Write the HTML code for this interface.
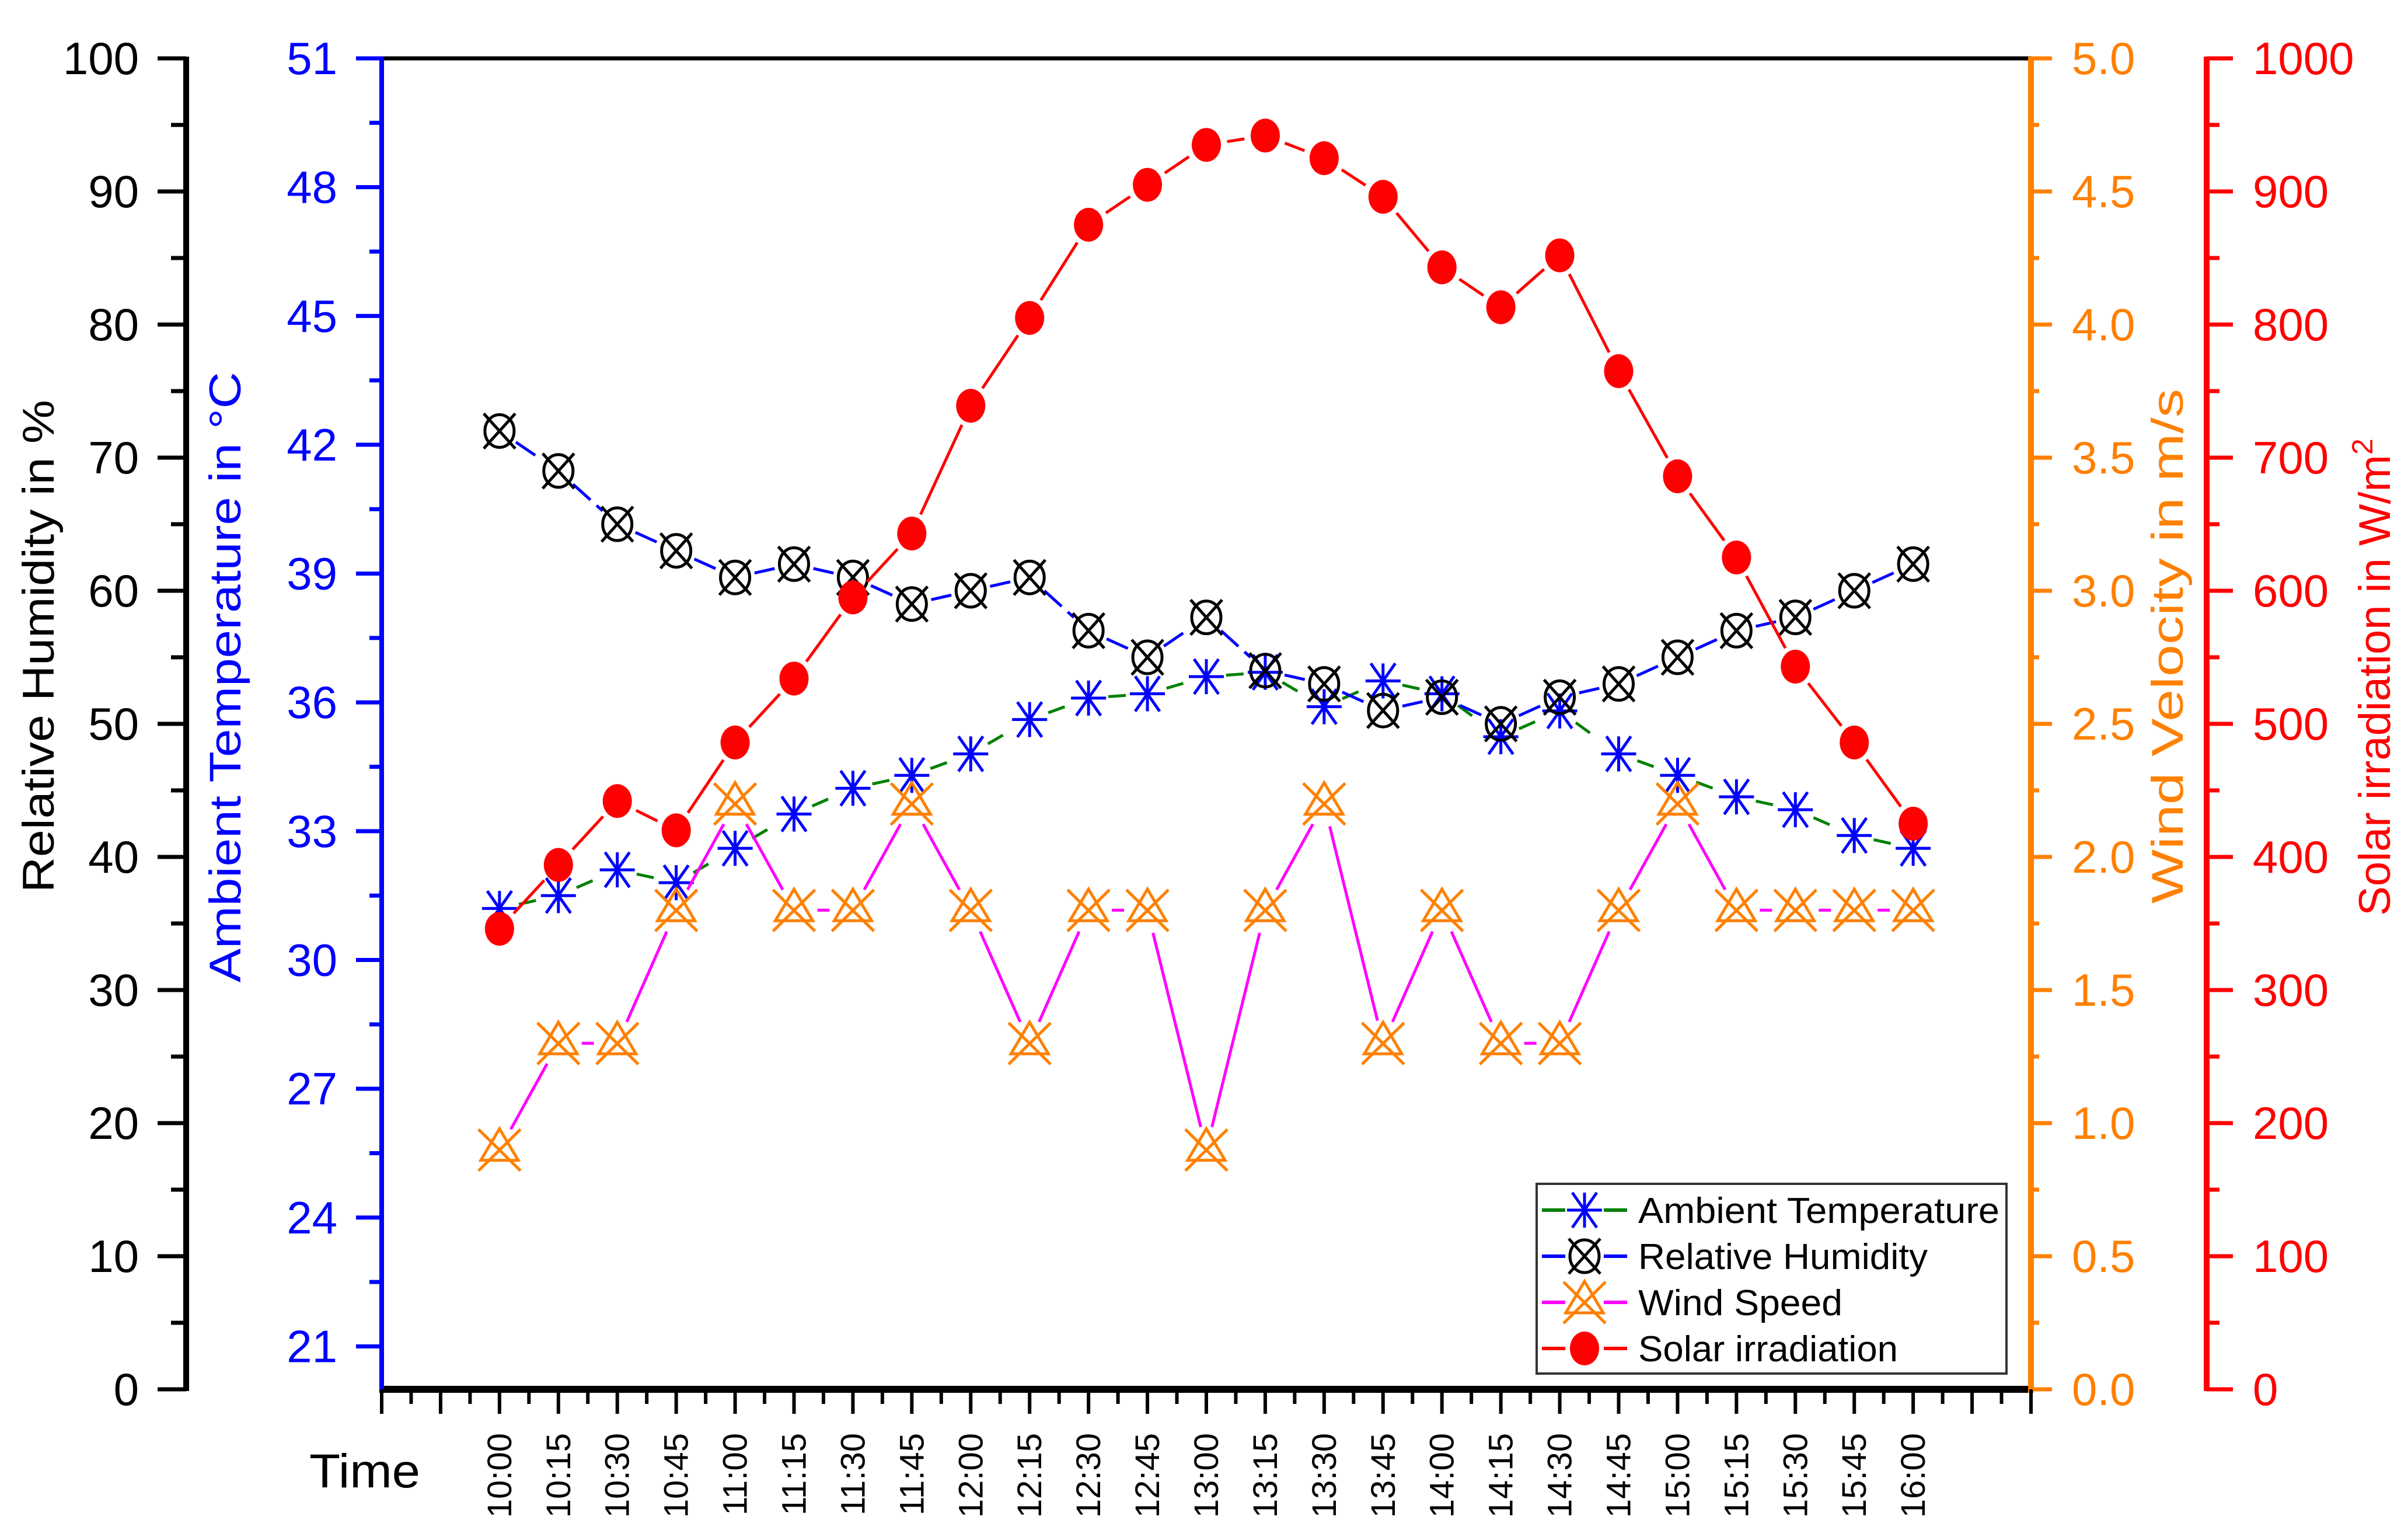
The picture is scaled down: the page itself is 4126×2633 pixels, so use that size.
<!DOCTYPE html>
<html><head><meta charset="utf-8"><style>
html,body{margin:0;padding:0;background:#fff}
svg{display:block}
text{font-family:"Liberation Sans",sans-serif}
</style></head><body>
<svg id="chart" width="4126" height="2633" viewBox="0 0 4126 2633" xmlns="http://www.w3.org/2000/svg">
<g id="axes"></g>
<g id="series"></g>
<g id="legend"></g>
</svg>
<script>
const times=["10:00","10:15","10:30","10:45","11:00","11:15","11:30","11:45","12:00","12:15","12:30","12:45","13:00","13:15","13:30","13:45","14:00","14:15","14:30","14:45","15:00","15:15","15:30","15:45","16:00"];
const tempValues=[31.2,31.5,32.1,31.8,32.6,33.4,34.0,34.3,34.8,35.6,36.1,36.2,36.6,36.7,35.9,36.5,36.2,35.2,35.8,34.8,34.3,33.8,33.5,32.9,32.6];
const rhValues=[72,69,65,63,61,62,61,59,60,61,57,55,58,54,53,51,52,50,52,53,55,57,58,60,62];
const windValues=[0.9,1.3,1.3,1.8,2.2,1.8,1.8,2.2,1.8,1.3,1.8,1.8,0.9,1.8,2.2,1.3,1.8,1.3,1.3,1.8,2.2,1.8,1.8,1.8,1.8];
const solarValues=[346,394,442,420,486,534,595,643,739,805,875,905,935,942,925,896,843,813,852,765,686,625,543,486,425];
const rhTicks=[0,10,20,30,40,50,60,70,80,90,100];
const tempTicks=[21,24,27,30,33,36,39,42,45,48,51];
const windTicks=["0.0","0.5","1.0","1.5","2.0","2.5","3.0","3.5","4.0","4.5","5.0"];
const solarTicks=[0,100,200,300,400,500,600,700,800,900,1000];

const NS="http://www.w3.org/2000/svg";
const L=654,R=3480,T=100,B=2380;
const x=i=>L+(i+2)*(R-L)/28;
const yRH=v=>B-v/100*(B-T);
const yT=v=>B-(v-20)/31*(B-T);
const yW=v=>B-v/5*(B-T);
const yS=v=>B-v/1000*(B-T);
function mk(tag,attrs,parent,txt){const e=document.createElementNS(NS,tag);for(const k in attrs)e.setAttribute(k,attrs[k]);if(txt!==undefined)e.textContent=txt;parent.appendChild(e);return e;}
const ax=document.getElementById('axes'),sr=document.getElementById('series'),lg=document.getElementById('legend');

// frame
let e;
e=mk('line',{x1:L,y1:T,x2:R,y2:T,stroke:'#000','stroke-width':7},ax);

e=mk('line',{x1:L-4,y1:B,x2:R+4,y2:B,stroke:'#000','stroke-width':12},ax);

// RH axis
e=mk('line',{x1:319,y1:T-3,x2:319,y2:B+3,stroke:'#000','stroke-width':10},ax);

rhTicks.forEach((v,i)=>{const y=yRH(v);mk('line',{x1:270,y1:y,x2:319,y2:y,stroke:'#000','stroke-width':7},ax);
 if(i<rhTicks.length-1){const ym=yRH(v+5);mk('line',{x1:293,y1:ym,x2:319,y2:ym,stroke:'#000','stroke-width':7},ax);}
 const t=mk('text',{x:238,y:y+27,'text-anchor':'end','font-size':78,fill:'#000'},ax,v);
 });
e=mk('text',{x:0,y:0,transform:'translate(92,1107) rotate(-90)','text-anchor':'middle','font-size':76,fill:'#000',textLength:844,lengthAdjust:'spacingAndGlyphs'},ax,'Relative Humidity in %');

// Temp axis
e=mk('line',{x1:L,y1:T-3,x2:L,y2:B,stroke:'#0000ff','stroke-width':8},ax);

tempTicks.forEach((v,i)=>{const y=yT(v);mk('line',{x1:610,y1:y,x2:L,y2:y,stroke:'#0000ff','stroke-width':7},ax);
 if(i<tempTicks.length-1){const ym=yT(v+1.5);mk('line',{x1:633,y1:ym,x2:L,y2:ym,stroke:'#0000ff','stroke-width':7},ax);}
 const t=mk('text',{x:578,y:y+27,'text-anchor':'end','font-size':78,fill:'#0000ff'},ax,v);
 });
e=mk('text',{x:0,y:0,transform:'translate(412,1160) rotate(-90)','text-anchor':'middle','font-size':76,fill:'#0000ff',textLength:1046,lengthAdjust:'spacingAndGlyphs'},ax,'Ambient Temperature in °C');

// Wind axis
e=mk('line',{x1:R,y1:T-3,x2:R,y2:B+6,stroke:'#ff8000','stroke-width':10},ax);

windTicks.forEach((v,i)=>{const y=yW(+v);mk('line',{x1:R,y1:y,x2:3516,y2:y,stroke:'#ff8000','stroke-width':7},ax);
 if(i<windTicks.length-1){const ym=yW(+v+0.25);mk('line',{x1:R,y1:ym,x2:3494,y2:ym,stroke:'#ff8000','stroke-width':7},ax);}
 const t=mk('text',{x:3550,y:y+27,'font-size':78,fill:'#ff8000'},ax,v);
 });
e=mk('text',{x:0,y:0,transform:'translate(3740,1107) rotate(-90)','text-anchor':'middle','font-size':76,fill:'#ff8000',textLength:882,lengthAdjust:'spacingAndGlyphs'},ax,'Wind Velocity in m/s');

// Solar axis
e=mk('line',{x1:3781,y1:T-3,x2:3781,y2:B+3,stroke:'#ff0000','stroke-width':10},ax);

solarTicks.forEach((v,i)=>{const y=yS(v);mk('line',{x1:3781,y1:y,x2:3826,y2:y,stroke:'#ff0000','stroke-width':7},ax);
 if(i<solarTicks.length-1){const ym=yS(v+50);mk('line',{x1:3781,y1:ym,x2:3803,y2:ym,stroke:'#ff0000','stroke-width':7},ax);}
 const t=mk('text',{x:3860,y:y+27,'font-size':78,fill:'#ff0000'},ax,v);
 });
e=mk('text',{x:0,y:0,transform:'translate(4095,1160) rotate(-90)','text-anchor':'middle','font-size':76,fill:'#ff0000'},ax);

e.innerHTML='Solar irradiation in W/m<tspan dy="-30" font-size="50">2</tspan>';
// X ticks
for(let k=-2;k<=26;k++){const xx=x(k);mk('line',{x1:xx,y1:B,x2:xx,y2:B+42,stroke:'#000','stroke-width':6},ax);
 if(k<26){const xm=x(k+0.5);mk('line',{x1:xm,y1:B,x2:xm,y2:B+25,stroke:'#000','stroke-width':6},ax);}}
times.forEach((t,i)=>{const xx=x(i);const tx=mk('text',{x:0,y:0,transform:`translate(${xx+20},2455) rotate(-90)`,'text-anchor':'end','font-size':58,fill:'#000'},ax,t);
 });
e=mk('text',{x:530,y:2548,'font-size':82,fill:'#000',textLength:190,lengthAdjust:'spacingAndGlyphs'},ax,'Time');


// helpers
function gapLine(pts,color,dash,gap,parent,name){
 for(let i=0;i<pts.length-1;i++){const [x1,y1]=pts[i],[x2,y2]=pts[i+1];const dx=x2-x1,dy=y2-y1,d=Math.hypot(dx,dy);
  if(d<=2*gap)continue;const ux=dx/d,uy=dy/d;
  const ln=mk('line',{x1:x1+ux*gap,y1:y1+uy*gap,x2:x2-ux*gap,y2:y2-uy*gap,stroke:color,'stroke-width':5,'stroke-dasharray':dash||'none'},parent);
  }}
function star(cx,cy,p){const g=mk('g',{stroke:'#0000ff','stroke-width':5,fill:'none'},p);const r=30;
 mk('line',{x1:cx-r,y1:cy,x2:cx+r,y2:cy},g);mk('line',{x1:cx,y1:cy-r,x2:cx,y2:cy+r},g);
 mk('line',{x1:cx-r*0.7,y1:cy-r,x2:cx+r*0.7,y2:cy+r},g);mk('line',{x1:cx+r*0.7,y1:cy-r,x2:cx-r*0.7,y2:cy+r},g);return g;}
function cross(cx,cy,p){const g=mk('g',{stroke:'#000','stroke-width':5,fill:'none'},p);
 mk('ellipse',{cx:cx,cy:cy,rx:25,ry:28},g);mk('line',{x1:cx-27,y1:cy-30,x2:cx+27,y2:cy+30},g);mk('line',{x1:cx+27,y1:cy-30,x2:cx-27,y2:cy+30},g);return g;}
function tri(cx,cy,p){const g=mk('g',{stroke:'#ff8000','stroke-width':5,fill:'none'},p);
 mk('polygon',{points:`${cx},${cy-36} ${cx+32},${cy+18} ${cx-32},${cy+18}`},g);
 mk('line',{x1:cx-36,y1:cy-35,x2:cx+36,y2:cy+36},g);mk('line',{x1:cx+36,y1:cy-35,x2:cx-36,y2:cy+36},g);return g;}
function dot(cx,cy,p){return mk('ellipse',{cx:cx,cy:cy,rx:25,ry:29,fill:'#ff0000'},p);}

// series
const tp=tempValues.map((v,i)=>[x(i),yT(v)]);
const rp=rhValues.map((v,i)=>[x(i),yRH(v)]);
const wp=windValues.map((v,i)=>[x(i),yW(v)]);
const sp=solarValues.map((v,i)=>[x(i),yS(v)]);
gapLine(tp,'#008000','30 30',34,sr,'temp-line');
tp.forEach(p=>{const m=star(p[0],p[1],sr);});
gapLine(rp,'#0000ff','40 14',34,sr,'rh-line');
rp.forEach(p=>{const m=cross(p[0],p[1],sr);});
gapLine(wp,'#ff00ff',null,40,sr,'wind-line');
wp.forEach(p=>{const m=tri(p[0],p[1],sr);});
gapLine(sp,'#ff0000',null,36,sr,'solar-line');
sp.forEach(p=>{const m=dot(p[0],p[1],sr);});

// legend
e=mk('rect',{x:2633,y:2028,width:805,height:325,fill:'#fff',stroke:'#333','stroke-width':4},lg);

const entries=[['Ambient Temperature','#008000',star,619],['Relative Humidity','#0000ff',cross,496],['Wind Speed','#ff00ff',tri,350],['Solar irradiation','#ff0000',dot,445]];
entries.forEach((en,i)=>{const cy=2073+i*79;const g=mk('g',{},lg);
 
 mk('line',{x1:2642,y1:cy,x2:2682,y2:cy,stroke:en[1],'stroke-width':6},g);
 mk('line',{x1:2748,y1:cy,x2:2788,y2:cy,stroke:en[1],'stroke-width':6},g);
 en[2](2715,cy,g);
 mk('text',{x:2807,y:cy+22,'font-size':62,fill:'#000',textLength:en[3],lengthAdjust:'spacingAndGlyphs'},g,en[0]);});
</script>
</body></html>
